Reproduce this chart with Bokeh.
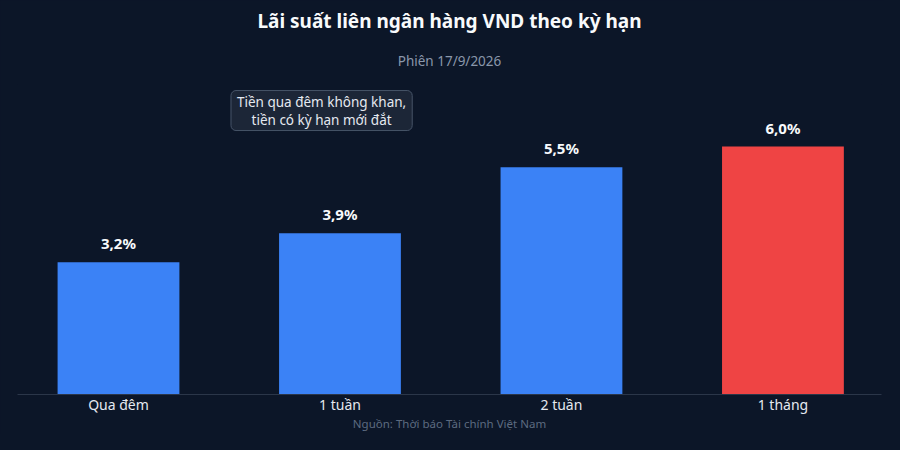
from bokeh.plotting import figure
from bokeh.models import (ColumnDataSource, Range1d, FixedTicker, Title, Label)
from bokeh.core.properties import value
from bokeh.embed import file_html
from bokeh.resources import INLINE

# ---- data ----
categories = ["Qua đêm", "1 tuần", "2 tuần", "1 tháng"]
rates = [3.2, 3.9, 5.5, 6.0]
title_text = "Lãi suất liên ngân hàng VND theo kỳ hạn"
subtitle_text = "Phiên 17/9/2026"
source_text = "Nguồn: Thời báo Tài chính Việt Nam"
note_text = "Tiền qua đêm không khan,\ntiền có kỳ hạn mới đắt"

# ---- styles ----
BG = "#0c1628"
BLUE = "#3b82f6"
RED = "#ef4444"
FONT = "Noto Sans"

xs = list(range(len(categories)))
colors = [BLUE] * (len(categories) - 1) + [RED]
labels = [f"{v:.1f}".replace(".", ",") + "%" for v in rates]

src = ColumnDataSource(dict(x=xs, top=rates, color=colors, label=labels))

p = figure(width=884, height=434,
           x_range=Range1d(-0.456, 3.445), y_range=Range1d(0, 7.5),
           output_backend="svg", toolbar_location=None,
           background_fill_color=BG, border_fill_color=BG,
           outline_line_color=None,
           min_border_left=17, min_border_right=3, min_border_top=84,
           min_border_bottom=40)
p.title.text = title_text
p.title.align = "center"
p.title.text_font = FONT
p.title.text_font_size = "19px"
p.title.text_font_style = "bold"
p.title.text_color = "#f8fafc"
p.title.standoff = 3

p.add_layout(Title(text=subtitle_text, align="center", text_font=FONT,
                   text_font_size="13.5px", text_font_style="normal",
                   text_color="#8a97ab", standoff=29), "above")

p.grid.visible = False
p.yaxis.visible = False

ax = p.xaxis[0]
ax.ticker = FixedTicker(ticks=xs)
ax.major_label_overrides = {i: c for i, c in zip(xs, categories)}
ax.axis_line_color = "#2b3649"
ax.axis_line_width = 1
ax.major_tick_line_color = None
ax.major_tick_out = 0
ax.major_tick_in = 0
ax.minor_tick_line_color = None
ax.minor_tick_out = 0
ax.major_label_text_color = "#e5e9f0"
ax.major_label_text_font = FONT
ax.major_label_text_font_size = "14px"
ax.major_label_standoff = 0

p.add_layout(Title(text=source_text, align="center", text_font=FONT,
                   text_font_size="11.5px", text_font_style="normal",
                   text_color="#5d6b80", standoff=-6), "below")

p.vbar(x="x", top="top", width=0.55, fill_color="color", line_color=None,
       source=src)

p.text(x="x", y="top", text="label", source=src, y_offset=-9,
       text_align="center", text_baseline="bottom",
       text_font=value(FONT), text_font_size="15px", text_font_style="bold",
       text_color="#f8fafc")

note = Label(x=0.917, y=6.87, text=note_text, text_align="center",
             text_baseline="middle", text_font=FONT, text_font_size="13.5px",
             text_color="#e5e9f0", background_fill_color="#1c2637",
             background_fill_alpha=1.0, border_line_color="#475468",
             border_line_width=1, padding=dict(left=6, right=6, top=2, bottom=2),
             border_radius=5, text_line_height=1.0)
p.add_layout(note)

html = file_html(p, INLINE)
html = html.replace("</head>", "<style>body{background-color:%s;}</style></head>" % BG, 1)
open("out.html", "w").write(html)
